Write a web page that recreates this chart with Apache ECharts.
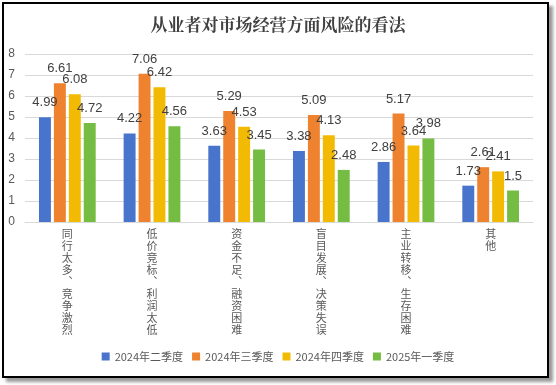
<!DOCTYPE html>
<html><head><meta charset="utf-8">
<script src="https://cdn.jsdelivr.net/npm/echarts@6/dist/echarts.min.js"></script>
<style>
html,body{margin:0;padding:0;background:#fff;}
#wrap{position:relative;width:556px;height:385px;overflow:hidden;}
#frame{position:absolute;left:2px;top:2px;width:543px;height:372px;border:2px solid #000;box-shadow:4px 4px 3px #9a9a9a;background:#fff;}
#chart{position:absolute;left:0;top:0;width:556px;height:385px;}
</style></head>
<body><div id="wrap"><div id="frame"></div><div id="chart"></div></div>
<script>
var categories = ['同行太多、竞争激烈','低价竞标、利润太低','资金不足、融资困难','盲目发展、决策失误','主业转移、生存困难','其他'];
var seriesNames = ['2024年二季度','2024年三季度','2024年四季度','2025年一季度'];
var q2_2024 = [4.99, 4.22, 3.63, 3.38, 2.86, 1.73];
var q3_2024 = [6.61, 7.06, 5.29, 5.09, 5.17, 2.61];
var q4_2024 = [6.08, 6.42, 4.53, 4.13, 3.64, 2.41];
var q1_2025 = [4.72, 4.56, 3.45, 2.48, 3.98, 1.5];
var yTicks = [0,1,2,3,4,5,6,7,8];
var colors = ['#4874CB','#EE822F','#F2BA02','#75BD42'];
var allData = [q2_2024, q3_2024, q4_2024, q1_2025];

var chart = echarts.init(document.getElementById('chart'), null, {renderer:'canvas'});
var series = allData.map(function(d, i){
  return {
    name: seriesNames[i], type: 'bar', data: d,
    barGap: '25%', barCategoryGap: '33%',
    itemStyle: {color: colors[i]},
    label: {show: true, position: 'top', distance: 8, color: '#404040', fontSize: 13, fontFamily: 'Liberation Sans, Arial, sans-serif'}
  };
});
chart.setOption({
  backgroundColor: 'transparent',
  color: colors,
  title: {
    text: '从业者对市场经营方面风险的看法', left: 'center', top: 11,
    textStyle: {fontSize: 17, fontWeight: 'bold', color: '#404040', fontFamily: 'Noto Serif CJK SC, Noto Sans CJK SC, serif'}
  },
  legend: {
    data: seriesNames, bottom: 18, left: 'center', icon: 'rect', itemWidth: 8, itemHeight: 8, itemGap: 9,
    textStyle: {fontSize: 11, color: '#595959', fontFamily: 'Noto Sans CJK SC, sans-serif'}
  },
  grid: {left: 25, right: 23, top: 54, bottom: 163, containLabel: false},
  xAxis: {
    type: 'category', data: categories,
    axisLine: {lineStyle: {color: '#d9d9d9'}},
    axisTick: {show: false},
    axisLabel: {
      interval: 0, margin: 6, color: '#595959', fontSize: 11, lineHeight: 12,
      fontFamily: 'Noto Sans CJK SC, sans-serif', verticalAlign: 'top',
      formatter: function(v){ return v.replace(/、/g, '\uFE11').split('').join('\n'); }
    }
  },
  yAxis: {
    type: 'value', min: yTicks[0], max: yTicks[yTicks.length-1], interval: 1,
    axisLine: {show: false}, axisTick: {show: false},
    axisLabel: {color: '#595959', fontSize: 12, margin: 10, fontFamily: 'Liberation Sans, Arial, sans-serif'},
    splitLine: {lineStyle: {color: '#d9d9d9'}}
  },
  series: series
});
</script></body></html>
